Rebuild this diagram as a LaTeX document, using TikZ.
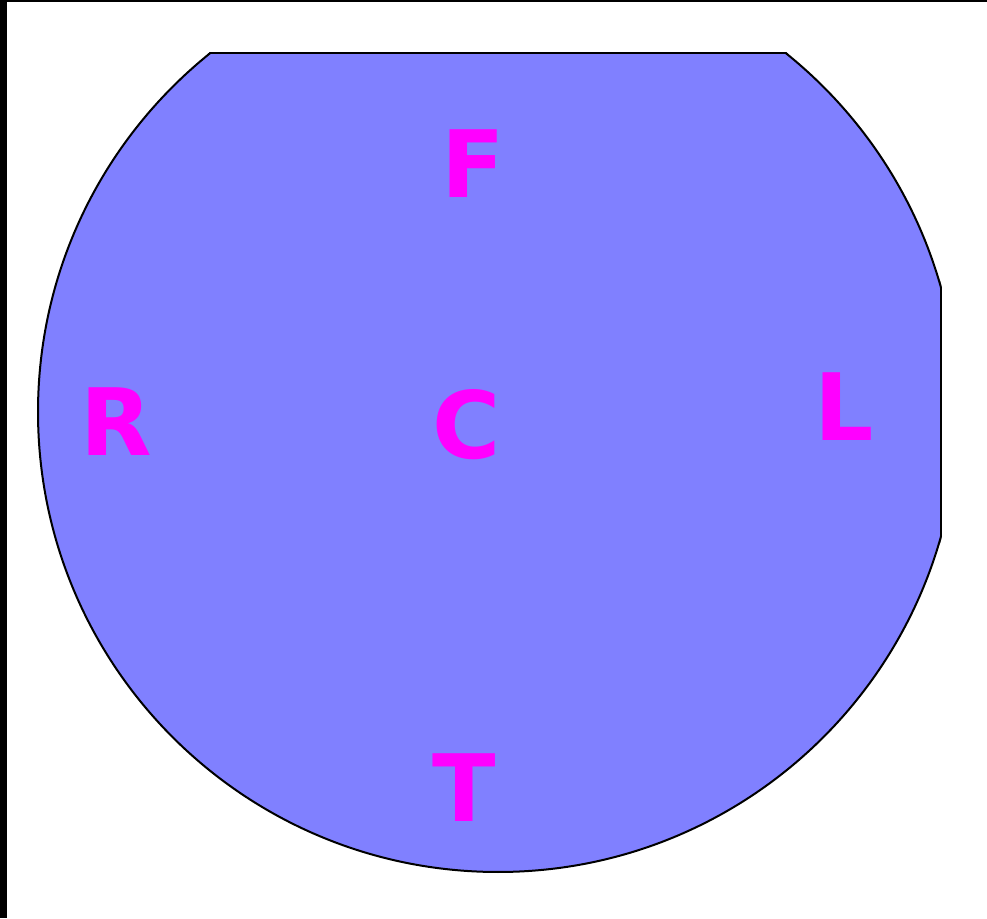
\documentclass[tikz,border=0pt]{standalone}
\usepackage{fontspec}
\setmainfont{DejaVu Sans}
\definecolor{discfill}{HTML}{8080FF}
\definecolor{lettercol}{HTML}{FF00FF}
\begin{document}
\begin{tikzpicture}[x=1pt,y=1pt,
  letter/.style={anchor=base,inner sep=0pt,text=lettercol,font=\fontsize{93}{93}\selectfont\bfseries}]
\useasboundingbox (0,0) rectangle (987,918);
\fill[white] (0,0) rectangle (987,918);
% frame bars
\fill[black] (0,0) rectangle (7,918);
\fill[black] (0,916) rectangle (987,918);
% clipped disc
\coordinate (ctr) at (498,506);
\begin{scope}
  \clip (0,0) rectangle (941,865);
  \fill[discfill] (ctr) circle (460);
  \draw[line width=2pt] (ctr) circle (460);
\end{scope}
\begin{scope}
  \clip (ctr) circle (461);
  \draw[line width=2pt] (0,865) -- (941,865) -- (941,0);
\end{scope}
% letters
\node[letter] (F) at (473.5,720) {F};
\node[letter] (R) at (116.5,462) {R};
\node[letter] (C) at (466.5,459) {C};
\node[letter] (L) at (844.5,477) {L};
\node[letter] (T) at (464.5,97) {T};
\end{tikzpicture}
\end{document}
